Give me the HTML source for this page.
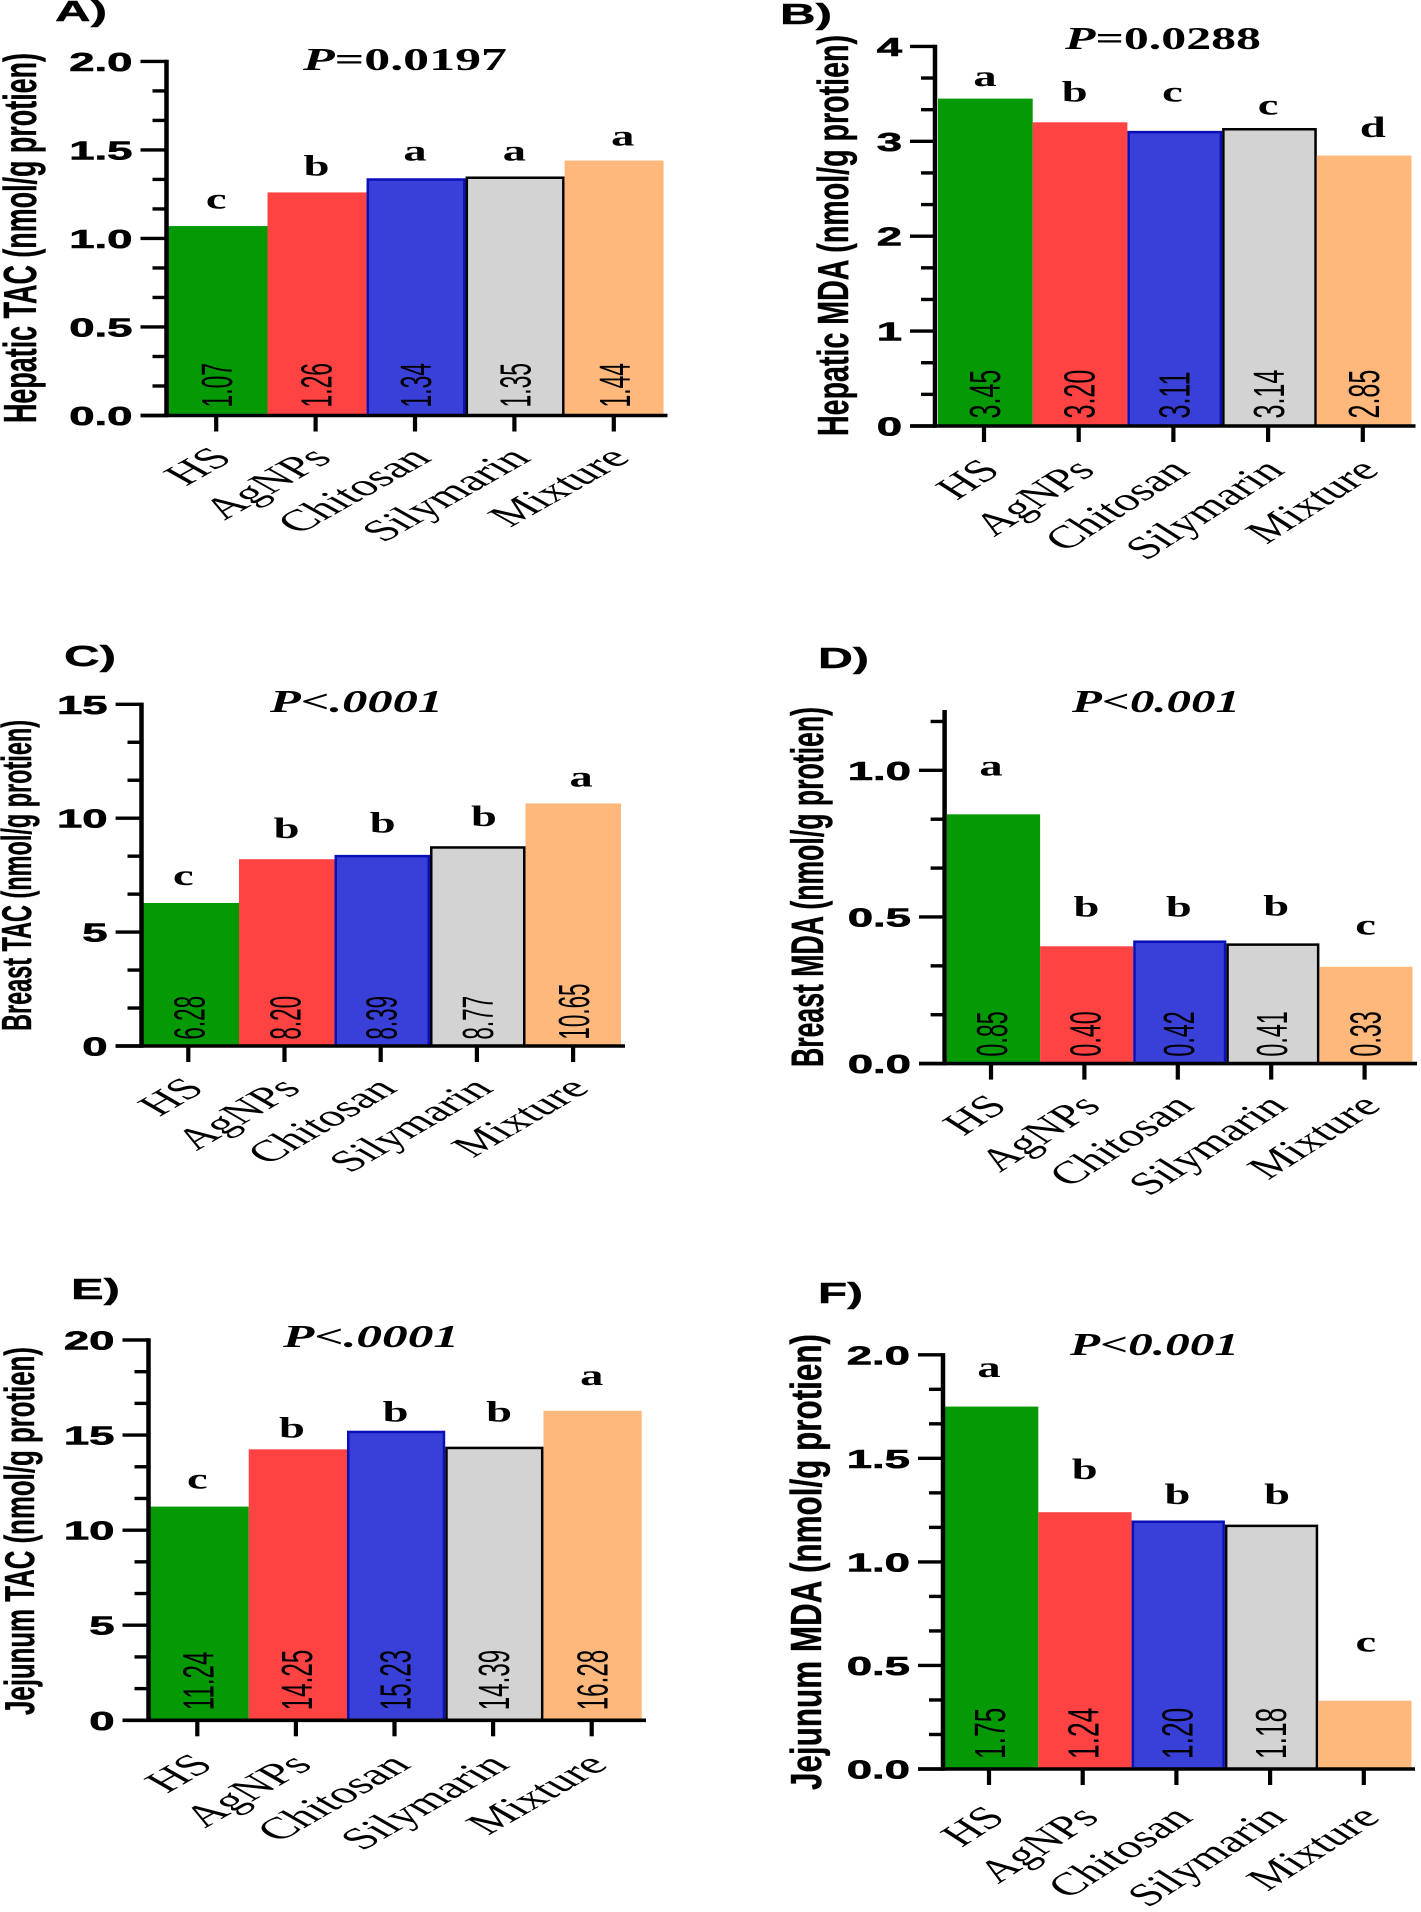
<!DOCTYPE html>
<html lang="en">
<head>
<meta charset="utf-8">
<title>Hepatic, breast and jejunum TAC and MDA bar charts</title>
<style>
html,body{margin:0;padding:0;background:#fff;}
body{width:1421px;height:1912px;overflow:hidden;}
svg{display:block;}
</style>
</head>
<body>
<svg id="figure" xmlns="http://www.w3.org/2000/svg" width="1421" height="1912" viewBox="0 0 1421 1912"></svg>
<script>
// ---- Data ----
const categories = ['HS', 'AgNPs', 'Chitosan', 'Silymarin', 'Mixture'];

const hepaticTacValues = [1.07, 1.26, 1.34, 1.35, 1.44];
const hepaticMdaValues = [3.45, 3.20, 3.11, 3.14, 2.85];
const breastTacValues = [6.28, 8.20, 8.39, 8.77, 10.65];
const breastMdaValues = [0.85, 0.40, 0.42, 0.41, 0.33];
const jejunumTacValues = [11.24, 14.25, 15.23, 14.39, 16.28];
const jejunumMdaValues = [1.75, 1.24, 1.20, 1.18, 0.33];

const hepaticTacLetters = ['c', 'b', 'a', 'a', 'a'];
const hepaticMdaLetters = ['a', 'b', 'c', 'c', 'd'];
const breastTacLetters = ['c', 'b', 'b', 'b', 'a'];
const breastMdaLetters = ['a', 'b', 'b', 'b', 'c'];
const jejunumTacLetters = ['c', 'b', 'b', 'b', 'a'];
const jejunumMdaLetters = ['a', 'b', 'b', 'b', 'c'];

const hepaticTacTicks = ['0.0', '0.5', '1.0', '1.5', '2.0'];
const hepaticMdaTicks = ['0', '1', '2', '3', '4'];
const breastTacTicks = ['0', '5', '10', '15'];
const breastMdaTicks = ['0.0', '0.5', '1.0'];
const jejunumTacTicks = ['0', '5', '10', '15', '20'];
const jejunumMdaTicks = ['0.0', '0.5', '1.0', '1.5', '2.0'];

// ---- Bar appearance, in category order ----
const barFills = ['#059a05', '#ff4242', '#3840d8', '#d3d3d3', '#ffb87c'];
const barStrokes = ['none', 'none', '#0a10b8', '#000000', 'none'];

// ---- Panel layout ----
const panels = [
  {
    tag: 'A)', tagX: 55, tagY: 21, tagLen: 52,
    pParts: [['P', true], ['=0.0197', false]], pX: 303, pY: 70, pLen: 204,
    title: 'Hepatic TAC (nmol/g protien)', titleX: 36, titleY: 423, titleLen: 370, titleSize: 46,
    values: hepaticTacValues, letters: hepaticTacLetters, ticks: hepaticTacTicks, axisMax: 2, tickStep: 0.5,
    axisX: 166.5, axisStart: 140.5, axisEnd: 667.5, topY: 61.4, zeroY: 415.5,
    barLeft: 168.5, barRight: 663.6, tick0: 216.2, tickGap: 99.4, catDy: 44, catK: 1.78, catSize: 30,
    letterGap: [17.5, 17, 18, 16, 15], letterDx: [0, 1, 0, 0, 9],
    valueScale: 0.52, valueBottom: 8, hideValues: []
  },
  {
    tag: 'B)', tagX: 780, tagY: 24, tagLen: 52,
    pParts: [['P', true], ['=0.0288', false]], pX: 1065, pY: 49, pLen: 196,
    title: 'Hepatic MDA (nmol/g protien)', titleX: 848, titleY: 436, titleLen: 401, titleSize: 44,
    values: hepaticMdaValues, letters: hepaticMdaLetters, ticks: hepaticMdaTicks, axisMax: 4, tickStep: 1,
    axisX: 935, axisStart: 910, axisEnd: 1415.5, topY: 46.4, zeroY: 426,
    barLeft: 938, barRight: 1411.5, tick0: 984, tickGap: 94.7, catDy: 46, catK: 1.57, catSize: 32,
    letterGap: [12.5, 20.7, 29.6, 13.6, 18.6], letterDx: [1, -4, -1, 0, 10],
    valueScale: 0.57, valueBottom: 7.5, hideValues: []
  },
  {
    tag: 'C)', tagX: 64, tagY: 666, tagLen: 52,
    pParts: [['P<.0001', true]], pX: 270, pY: 712, pLen: 173,
    title: 'Breast TAC (nmol/g protien)', titleX: 31, titleY: 1031, titleLen: 311, titleSize: 42,
    values: breastTacValues, letters: breastTacLetters, ticks: breastTacTicks, axisMax: 15, tickStep: 5,
    axisX: 141.5, axisStart: 115.6, axisEnd: 625, topY: 704.3, zeroY: 1046,
    barLeft: 143.5, barRight: 621, tick0: 188.3, tickGap: 96.2, catDy: 44, catK: 1.73, catSize: 30,
    letterGap: [17.9, 21, 22.5, 20.4, 16.8], letterDx: [-5, 2, 2, 7, 8],
    valueScale: 0.51, valueBottom: 6.4, hideValues: []
  },
  {
    tag: 'D)', tagX: 818, tagY: 668, tagLen: 51,
    pParts: [['P<0.001', true]], pX: 1072, pY: 712, pLen: 168,
    title: 'Breast MDA (nmol/g protien)', titleX: 823, titleY: 1067, titleLen: 360, titleSize: 45,
    values: breastMdaValues, letters: breastMdaLetters, ticks: breastMdaTicks, axisMax: 1.2, tickStep: 0.5,
    axisX: 944.6, axisStart: 919, axisEnd: 1417, topY: 711.7, zeroY: 1063.6,
    barLeft: 947, barRight: 1412.5, tick0: 991, tickGap: 93.4, catDy: 44, catK: 1.57, catSize: 32,
    letterGap: [38.6, 30, 24, 28, 32.5], letterDx: [0, 2, 1, 5, 1],
    valueScale: 0.53, valueBottom: 7, hideValues: []
  },
  {
    tag: 'E)', tagX: 71, tagY: 1299, tagLen: 49,
    pParts: [['P<.0001', true]], pX: 283, pY: 1347, pLen: 176,
    title: 'Jejunum TAC (nmol/g protien)', titleX: 34, titleY: 1715, titleLen: 368, titleSize: 42,
    values: jejunumTacValues, letters: jejunumTacLetters, ticks: jejunumTacTicks, axisMax: 20, tickStep: 5,
    axisX: 148.5, axisStart: 122.5, axisEnd: 646, topY: 1340, zeroY: 1720.3,
    barLeft: 150.5, barRight: 641.7, tick0: 197.3, tickGap: 98.6, catDy: 46, catK: 1.75, catSize: 30.5,
    letterGap: [17.9, 12, 9, 25, 25.8], letterDx: [0, -4, 1, 6, 0],
    valueScale: 0.55, valueBottom: 10, hideValues: []
  },
  {
    tag: 'F)', tagX: 818, tagY: 1303, tagLen: 45,
    pParts: [['P<0.001', true]], pX: 1070, pY: 1355, pLen: 169,
    title: 'Jejunum MDA (nmol/g protien)', titleX: 821, titleY: 1790, titleLen: 456, titleSize: 44,
    values: jejunumMdaValues, letters: jejunumMdaLetters, ticks: jejunumMdaTicks, axisMax: 2, tickStep: 0.5,
    axisX: 943, axisStart: 918, axisEnd: 1415, topY: 1354.8, zeroY: 1769,
    barLeft: 945, barRight: 1411.5, tick0: 989, tickGap: 93.7, catDy: 50, catK: 1.57, catSize: 32,
    letterGap: [29.5, 33, 16.6, 20.8, 49], letterDx: [0, 2, 1, 7, 2],
    valueScale: 0.6, valueBottom: 10, hideValues: [4]
  }
];

const SANS = '"Liberation Sans", sans-serif';
const SERIF = '"Liberation Serif", serif';
const SVG_NS = 'http://www.w3.org/2000/svg';
const figure = document.getElementById('figure');

function make(parent, tag, props) {
  const node = document.createElementNS(SVG_NS, tag);
  for (const key in props) {
    node.setAttribute(key, props[key]);
  }
  parent.appendChild(node);
  return node;
}

function drawPanel(panel) {
  const yOf = function (v) {
    return panel.zeroY - (v / panel.axisMax) * (panel.zeroY - panel.topY);
  };
  const tickX = function (i) {
    return panel.tick0 + i * panel.tickGap;
  };
  const barStep = (panel.barRight - panel.barLeft) / categories.length;

  const group = make(figure, 'g', {});
  
  

  // bars
  panel.values.forEach(function (value, i) {
    const top = yOf(value);
    const hasStroke = barStrokes[i] !== 'none';
    const inset = hasStroke ? 1.25 : 0;
    const bar = make(group, 'rect', {
      x: panel.barLeft + i * barStep + inset,
      y: top + inset,
      width: barStep - inset * 2,
      height: Math.max(0, panel.zeroY - top - inset),
      fill: barFills[i],
      stroke: barStrokes[i],
      'stroke-width': hasStroke ? 2.5 : 0
    });
    
    
  });

  // y axis minor and major ticks
  const minorStep = panel.tickStep / 3;
  const tickCount = Math.floor(panel.axisMax / minorStep + 0.001);
  for (let t = 0; t <= tickCount; t++) {
    const isMajor = t % 3 === 0;
    const yTick = yOf(t * minorStep);
    const mark = make(group, 'line', {
      x1: isMajor ? panel.axisStart : panel.axisX - 14,
      x2: panel.axisX,
      y1: yTick,
      y2: yTick,
      stroke: '#000',
      'stroke-width': 3.4
    });
    
    
  }

  // y axis tick labels
  panel.ticks.forEach(function (label, i) {
    const yLabel = yOf(i * panel.tickStep) + 9.5;
    const tickLabel = make(group, 'text', {
      transform: 'translate(' + (panel.axisStart - 8) + ' ' + yLabel + ') scale(1.75 1)',
      'text-anchor': 'end',
      'font-family': SANS,
      'font-weight': 'bold',
      'font-size': 26,
      stroke: '#000',
      'stroke-width': 0.6,
      fill: '#000'
    });
    tickLabel.textContent = label;
    
    
  });

  // axis lines
  const yAxis = make(group, 'line', {
    x1: panel.axisX, x2: panel.axisX, y1: panel.topY - 1.7, y2: panel.zeroY + 1.7,
    stroke: '#000', 'stroke-width': 4.5
  });
  
  

  const xAxis = make(group, 'line', {
    x1: panel.axisStart, x2: panel.axisEnd, y1: panel.zeroY, y2: panel.zeroY,
    stroke: '#000', 'stroke-width': 3.6
  });
  
  

  // categories, x ticks, value labels, significance letters
  categories.forEach(function (name, i) {
    const cx = tickX(i);

    const xTick = make(group, 'line', {
      x1: cx, x2: cx, y1: panel.zeroY, y2: panel.zeroY + 16,
      stroke: '#000', 'stroke-width': 4.2
    });
    
    

    const catLabel = make(group, 'text', {
      transform: 'translate(' + (cx + 18) + ' ' + (panel.zeroY + panel.catDy) + ') scale(' + panel.catK + ' 1) rotate(-45)',
      'text-anchor': 'end',
      'font-family': SERIF,
      'font-size': panel.catSize,
      fill: '#000'
    });
    catLabel.textContent = name;
    
    

    if (panel.hideValues.indexOf(i) === -1) {
      const valueLabel = make(group, 'text', {
        transform: 'translate(' + (cx + 16) + ' ' + (panel.zeroY - panel.valueBottom) + ') rotate(-90) scale(' + panel.valueScale + ' 1)',
        'font-family': SANS,
        'font-size': 44,
        fill: '#000'
      });
      valueLabel.textContent = panel.values[i].toFixed(2);
      
      
    }

    const letter = make(group, 'text', {
      transform: 'translate(' + (cx + panel.letterDx[i]) + ' ' + (yOf(panel.values[i]) - panel.letterGap[i]) + ') scale(1.55 1)',
      'text-anchor': 'middle',
      'font-family': SERIF,
      'font-weight': 'bold',
      'font-size': 30,
      fill: '#000'
    });
    letter.textContent = panel.letters[i];
    
    
  });

  // y axis title
  const title = make(group, 'text', {
    transform: 'translate(' + panel.titleX + ' ' + panel.titleY + ') rotate(-90)',
    'font-family': SANS,
    'font-weight': 'bold',
    'font-size': panel.titleSize,
    textLength: panel.titleLen,
    lengthAdjust: 'spacingAndGlyphs',
    stroke: '#000',
    'stroke-width': 0.4,
    fill: '#000'
  });
  title.textContent = panel.title;
  
  

  // panel letter
  const tag = make(group, 'text', {
    x: panel.tagX,
    y: panel.tagY,
    'font-family': SANS,
    'font-weight': 'bold',
    'font-size': 29,
    textLength: panel.tagLen,
    lengthAdjust: 'spacingAndGlyphs',
    stroke: '#000',
    'stroke-width': 0.4,
    fill: '#000'
  });
  tag.textContent = panel.tag;
  
  

  // p value
  const pValue = make(group, 'text', {
    x: panel.pX,
    y: panel.pY,
    'font-family': SERIF,
    'font-weight': 'bold',
    'font-size': 32,
    textLength: panel.pLen,
    lengthAdjust: 'spacingAndGlyphs',
    fill: '#000'
  });
  panel.pParts.forEach(function (part) {
    const span = make(pValue, 'tspan', { 'font-style': part[1] ? 'italic' : 'normal' });
    span.textContent = part[0];
  });
  
  
}

panels.forEach(drawPanel);
</script>
</body>
</html>
